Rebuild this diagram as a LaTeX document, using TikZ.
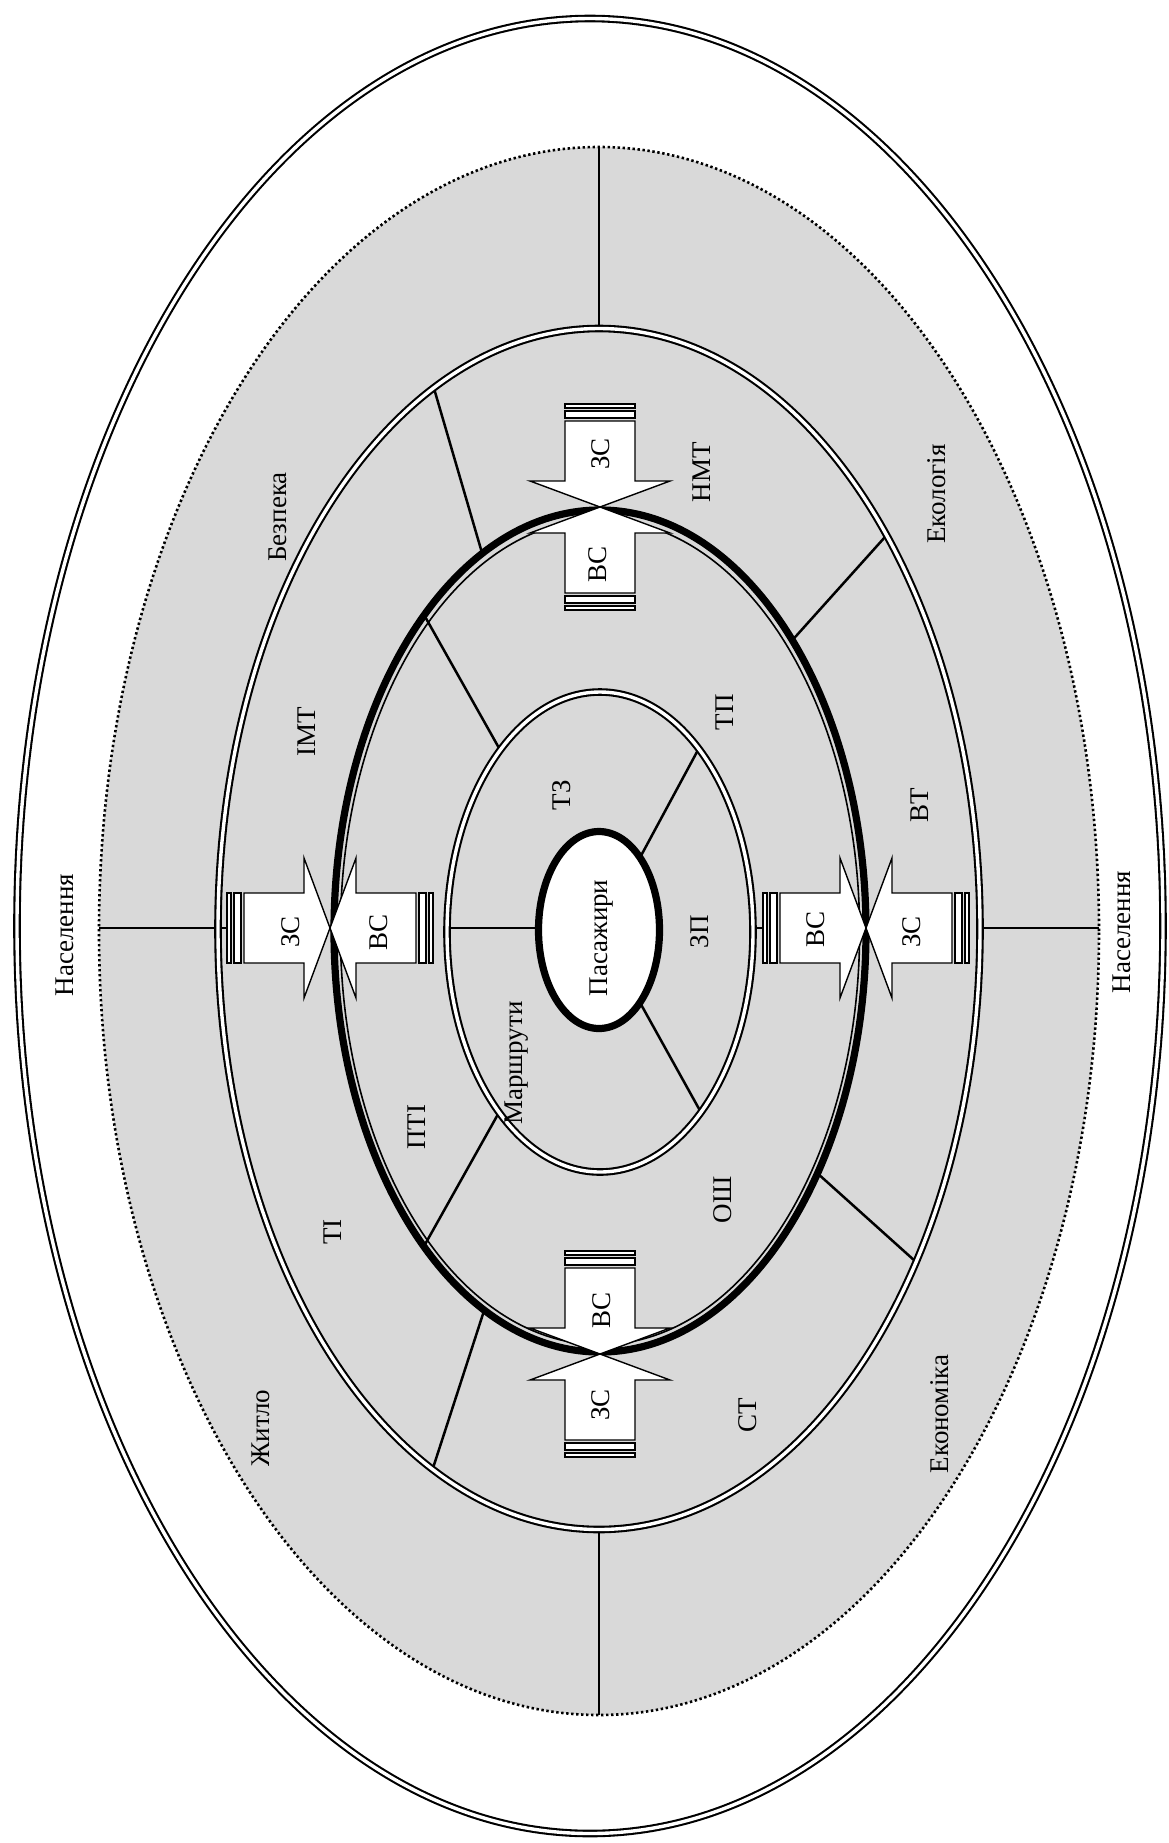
\documentclass[tikz,border=0pt]{standalone}
\usepackage{fontspec}
\setmainfont{Liberation Serif}
\usetikzlibrary{calc}
\definecolor{ringgray}{RGB}{217,217,217}
\begin{document}
\begin{tikzpicture}[x=0.5pt,y=-0.5pt,
  every node/.style={font=\fontsize{13.5}{16}\selectfont, inner sep=0pt},
  lbl/.style={rotate=90},
  spoke/.style={line width=1.25pt},
  dbl/.style={draw=black, line width=1.05pt, double=white, double distance=1.7pt},
  arrowline/.style={draw=black, fill=white, line width=0.7pt, line join=miter},
  sarrow/.pic={
    \filldraw[arrowline] (0,0) -- (-26,70) -- (-26,35) -- (-86,35) -- (-86,-35) -- (-26,-35) -- (-26,-70) -- cycle;
    \filldraw[arrowline] (-96,-35) rectangle (-89,35);
    \filldraw[arrowline] (-103,-35) rectangle (-99,35);
  }
]
\useasboundingbox (0,0) rectangle (1168,1843);

% outer double ellipse
\draw[dbl] (590,926) ellipse [x radius=286.5pt, y radius=453.75pt];

% gray dotted region
\draw[fill=ringgray, line width=1.3pt, dash pattern=on 1.2pt off 1.3pt] (599,931) ellipse [x radius=250pt, y radius=392pt];

% spoke end points
\coordinate (gT1) at (599,147);  \coordinate (gT2) at (599,329);
\coordinate (gB1) at (599,1530); \coordinate (gB2) at (599,1715);
\coordinate (gL1) at (99,928);   \coordinate (gL2) at (229,928);
\coordinate (gR1) at (980,928);  \coordinate (gR2) at (1099,928);
\coordinate (cR1) at (753,928);  \coordinate (cR2) at (764,928);

\coordinate (a1) at (433,385);  \coordinate (a2) at (480,546);
\coordinate (b1) at (885,537);  \coordinate (b2) at (797,635);
\coordinate (c1) at (915,1261); \coordinate (c2) at (826,1181);
\coordinate (d1) at (433,1468); \coordinate (d2) at (482,1317);

\coordinate (e1) at (423,613);  \coordinate (e2) at (499,748);
\coordinate (f1) at (497,1116); \coordinate (f2) at (423,1248);

\coordinate (h1) at (447,928);  \coordinate (h2) at (536,928);
\coordinate (i1) at (643,852);  \coordinate (i2) at (698,750);
\coordinate (j1) at (643,1008); \coordinate (j2) at (698,1107);

% gray ring spokes
\draw[spoke] (gT1) -- (gT2);
\draw[spoke] (gB1) -- (gB2);
\draw[spoke] (gL1) -- (gL2);
\draw[spoke] (gR1) -- (gR2);
\draw[spoke] (cR1) -- (cR2);

% ring 3 spokes
\begin{scope}[even odd rule]
  \clip (599,929) ellipse [x radius=190.5pt, y radius=300.25pt]
        (600,931) ellipse [x radius=133pt, y radius=210.5pt];
  \draw[spoke] ($(a1)!-0.3!(a2)$) -- ($(a1)!1.3!(a2)$);
  \draw[spoke] ($(b1)!-0.3!(b2)$) -- ($(b1)!1.3!(b2)$);
  \draw[spoke] ($(c1)!-0.3!(c2)$) -- ($(c1)!1.3!(c2)$);
  \draw[spoke] ($(d1)!-0.3!(d2)$) -- ($(d1)!1.3!(d2)$);
\end{scope}
% ring 2 spokes
\begin{scope}[even odd rule]
  \clip (600,931) ellipse [x radius=133pt, y radius=210.5pt]
        (600,932) ellipse [x radius=76.5pt, y radius=120pt];
  \draw[spoke] ($(e1)!-0.3!(e2)$) -- ($(e1)!1.3!(e2)$);
  \draw[spoke] ($(f1)!-0.3!(f2)$) -- ($(f1)!1.3!(f2)$);
\end{scope}
% ring 1 spokes
\begin{scope}[even odd rule]
  \clip (600,932) ellipse [x radius=76.5pt, y radius=120pt]
        (599,930) ellipse [x radius=30.25pt, y radius=49.25pt];
  \draw[spoke] ($(h1)!-0.3!(h2)$) -- ($(h1)!1.3!(h2)$);
  \draw[spoke] ($(i1)!-0.3!(i2)$) -- ($(i1)!1.3!(i2)$);
  \draw[spoke] ($(j1)!-0.3!(j2)$) -- ($(j1)!1.3!(j2)$);
\end{scope}

% ellipses
\draw[dbl] (599,929) ellipse [x radius=190.5pt, y radius=300.25pt];
\draw[line width=3.6pt] (600,931) ellipse [x radius=133pt, y radius=210.5pt];
\draw[line width=0.8pt] (600,932) ellipse [x radius=129.8pt, y radius=206.3pt];
\draw[dbl] (600,932) ellipse [x radius=76.5pt, y radius=120pt];
\draw[line width=3.6pt, fill=white] (599,930) ellipse [x radius=30.25pt, y radius=49.25pt];

% arrows
\pic[rotate=-90] at (600,507) {sarrow};
\pic[rotate=90]  at (600,507) {sarrow};
\pic[rotate=0]   at (330,928) {sarrow};
\pic[rotate=180] at (330,928) {sarrow};
\pic[rotate=0]   at (866,928) {sarrow};
\pic[rotate=180] at (866,928) {sarrow};
\pic[rotate=-90] at (600,1354) {sarrow};
\pic[rotate=90]  at (600,1354) {sarrow};

% arrow labels
\node[lbl] (tZS) at (601,454) {ЗС};
\node[lbl] (tVS) at (598,564) {ВС};
\node[lbl] (lZS) at (291,932) {ЗС};
\node[lbl] (lVS) at (379,932) {ВС};
\node[lbl] (rVS) at (816,929) {ВС};
\node[lbl] (rZS) at (912,932) {ЗС};
\node[lbl] (bVS) at (602,1310) {ВС};
\node[lbl] (bZS) at (601,1405) {ЗС};

% labels
\node[lbl] (nasL) at (65,935) {Населення};
\node[lbl] (nasR) at (1122,932) {Населення};
\node[lbl] (bezp) at (278,517) {Безпека};
\node[lbl] (ekol) at (937,494) {Екологія};
\node[lbl] (ekon) at (940,1414) {Економіка};
\node[lbl] (zhyt) at (261,1428) {Житло};
\node[lbl] (imt)  at (307,732) {ІМТ};
\node[lbl] (ti)   at (333,1232) {ТІ};
\node[lbl] (nmt)  at (702,472) {НМТ};
\node[lbl] (vt)   at (920,805) {ВТ};
\node[lbl] (st)   at (748,1415) {СТ};
\node[lbl] (pti)  at (417,1127) {ПТІ};
\node[lbl] (tp)   at (725,712) {ТП};
\node[lbl] (osh)  at (723,1200) {ОШ};
\node[lbl] (tz)   at (562,795) {ТЗ};
\node[lbl] (zp)   at (700,932) {ЗП};
\node[lbl] (marsh) at (517,1063) {Маршрути};
\node[lbl] (pas)  at (602,938) {Пасажири};
\end{tikzpicture}
\end{document}
